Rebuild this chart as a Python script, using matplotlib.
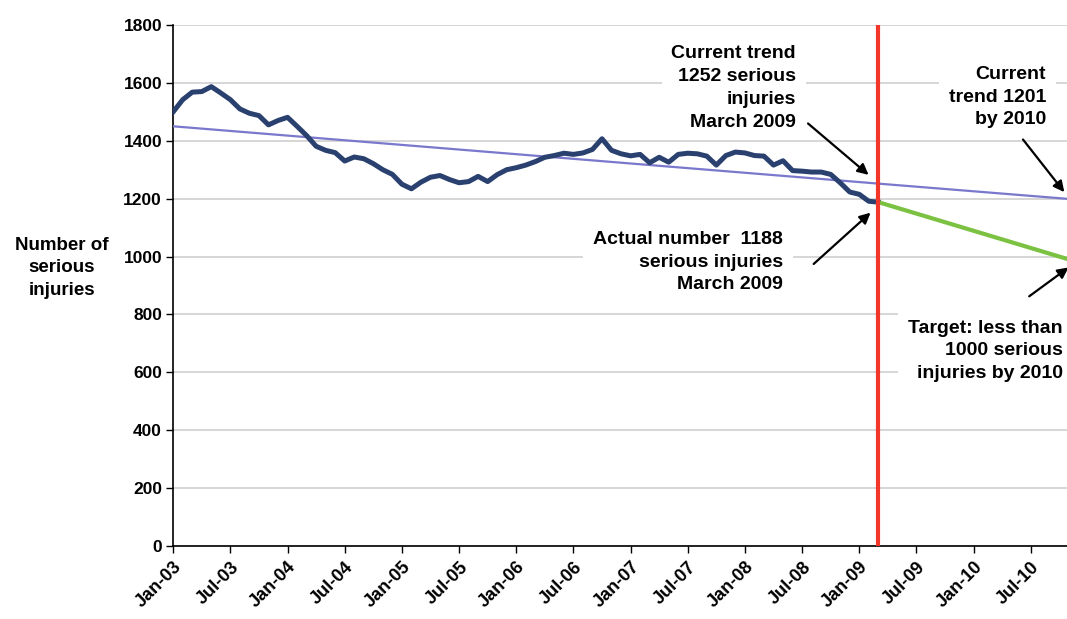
import matplotlib
matplotlib.use("Agg")
import matplotlib.pyplot as plt

plt.rcParams['font.family'] = ['Liberation Sans', 'DejaVu Sans']
plt.rcParams['font.weight'] = 'bold'

# ---- data ----
tick_labels = ["Jan-03", "Jul-03", "Jan-04", "Jul-04", "Jan-05", "Jul-05", "Jan-06",
               "Jul-06", "Jan-07", "Jul-07", "Jan-08", "Jul-08", "Jan-09", "Jul-09",
               "Jan-10", "Jul-10"]
tick_months = [0, 6, 12, 18, 24, 30, 36, 42, 48, 54, 60, 66, 72, 78, 84, 90]

# monthly serious injuries, Jan-03 .. Mar-09
injuries = [1500, 1542, 1568, 1570, 1587, 1565, 1542, 1510, 1495, 1487, 1455, 1470,
            1481, 1450, 1418, 1381, 1367, 1359, 1330, 1344, 1338, 1321, 1300, 1284,
            1250, 1234, 1257, 1274, 1280, 1266, 1255, 1259, 1277, 1259, 1283, 1300,
            1307, 1316, 1328, 1343, 1349, 1357, 1353, 1358, 1370, 1407, 1367, 1355,
            1348, 1353, 1324, 1343, 1326, 1353, 1357, 1355, 1347, 1316, 1349, 1361,
            1358, 1349, 1347, 1316, 1331, 1297, 1295, 1292, 1292, 1284, 1255, 1223,
            1215, 1191, 1188]
injury_months = list(range(len(injuries)))

trend_months = [0, 74, 94]
trend_values = [1450, 1252, 1199]

target_months = [74, 94]
target_values = [1188, 990]

marker_month = 74

# ---- figure ----
fig = plt.figure(figsize=(10.67, 6.19), dpi=100)
ax = fig.add_axes([173.2 / 1067, 73 / 619, 1 - 173.2 / 1067, 521 / 619])

ax.set_xlim(0, 93.8)
ax.set_ylim(0, 1800)

ax.set_yticks(range(0, 1801, 200))
ax.set_yticklabels([str(v) for v in range(0, 1801, 200)], fontsize=12.5, fontweight='bold')
ax.set_xticks(tick_months)
ax.set_xticklabels(tick_labels, rotation=45, ha='right', va='top',
                   rotation_mode='anchor', fontsize=13, fontweight='bold')
ax.tick_params(axis='x', length=5, width=1, direction='out', pad=4)
ax.tick_params(axis='y', length=5, width=1, direction='out', pad=3)

ax.grid(axis='y', color='#cfcfcf', lw=1.2, zorder=0)
ax.set_axisbelow(True)
for s in ['top', 'right']:
    ax.spines[s].set_visible(False)
ax.spines['left'].set_linewidth(1.2)
ax.spines['bottom'].set_linewidth(1.2)

ax.plot(trend_months, trend_values, color='#7a78cc', lw=1.6, zorder=3)
ax.plot(injury_months, injuries, color='#2a4170', lw=3.6, zorder=4,
        solid_joinstyle='round')
ax.plot(target_months, target_values, color='#7cc242', lw=3, zorder=4)
ax.axvline(marker_month, color='#f2372a', lw=3, zorder=5)

fig.text(62 / 1067, 1 - 268 / 619, "Number of\nserious\ninjuries", ha='center',
         va='center', fontsize=13.5, fontweight='bold', linespacing=1.45)

box = dict(facecolor='white', edgecolor='none', pad=7)
tk = dict(ha='right', va='center', multialignment='right', fontsize=14,
          fontweight='bold', linespacing=1.45, zorder=6, bbox=box)

ax.text(65.35, 1583, "Current trend\n1252 serious\ninjuries\nMarch 2009", **tk)
ax.text(64.0, 981, "Actual number  1188\nserious injuries\nMarch 2009", **tk)
ax.text(91.6, 1551, "Current\ntrend 1201\nby 2010", **tk)
ax.text(93.35, 674, "Target: less than\n1000 serious\ninjuries by 2010", **tk)

arr = dict(arrowstyle='-|>', color='black', lw=1.6, mutation_scale=16)
ax.annotate("", xy=(73.2, 1276), xytext=(66.4, 1466), arrowprops=arr,
            annotation_clip=False, zorder=7)
ax.annotate("", xy=(73.4, 1158), xytext=(67.0, 968), arrowprops=arr,
            annotation_clip=False, zorder=7)
ax.annotate("", xy=(93.7, 1215), xytext=(89.0, 1412), arrowprops=arr,
            annotation_clip=False, zorder=7)
ax.annotate("", xy=(94.2, 968), xytext=(89.6, 857), arrowprops=arr,
            annotation_clip=False, zorder=7)

fig.savefig("out.png", dpi=100)
